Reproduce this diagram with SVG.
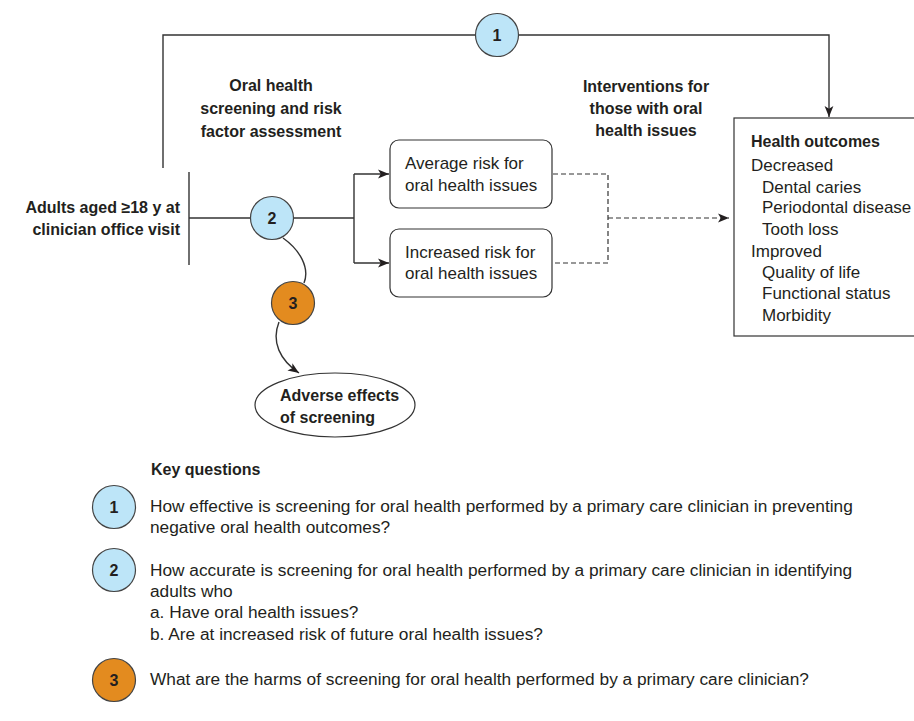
<svg xmlns="http://www.w3.org/2000/svg" width="914" height="721" viewBox="0 0 914 721">
<style>
text{font-family:"Liberation Sans",Arial,sans-serif;font-size:17px;fill:#231f20}
.b{font-weight:bold;font-size:16px}
.kq{font-size:17.3px}
.ln{fill:none;stroke:#333;stroke-width:1.4}
.dash{fill:none;stroke:#333;stroke-width:1.2;stroke-dasharray:5,3}
.box{fill:#fff;stroke:#333;stroke-width:1.2}
.blue{fill:#bde5f8;stroke:#444;stroke-width:1.2}
.orange{fill:#e38b1f;stroke:#444;stroke-width:1.2}
.num{font-weight:bold;font-size:16px;text-anchor:middle}
.mid{text-anchor:middle}
.end{text-anchor:end}
</style>
<defs>
<marker id="ah" viewBox="0 0 10 10" refX="10" refY="5" markerWidth="11" markerHeight="11" markerUnits="userSpaceOnUse" orient="auto">
<path d="M0,1 L10,5 L0,9 L2.5,5 Z" fill="#231f20"/>
</marker>
</defs>
<rect width="914" height="721" fill="#fff"/>
<g id="connectors">
<path class="ln" d="M163,168 V35 H829 V117" marker-end="url(#ah)"/>
<path class="ln" d="M189,172 V265"/>
<path class="ln" d="M189,218 H354"/>
<path class="ln" d="M354,174 V263"/>
<path class="ln" d="M354,174 H389" marker-end="url(#ah)"/>
<path class="ln" d="M354,263 H389" marker-end="url(#ah)"/>
<path class="dash" d="M553,174 H608 V263 H553"/>
<path class="dash" d="M608,218 H729" marker-end="url(#ah)"/>
<path class="ln" d="M283,238 C300,250 310,268 304,283"/>
<path class="ln" d="M279,322 C271,342 280,360 299,373" marker-end="url(#ah)"/>
</g>
<g id="kq1-circle"><circle class="blue" cx="497" cy="35" r="21.5"/><text class="num" x="497" y="41">1</text></g>
<g id="population">
<text class="b end" x="180" y="213">Adults aged ≥18 y at</text>
<text class="b end" x="180" y="235">clinician office visit</text>
</g>
<g id="screening-label">
<text class="b mid" x="271" y="91">Oral health</text>
<text class="b mid" x="271" y="114">screening and risk</text>
<text class="b mid" x="271" y="137">factor assessment</text>
</g>
<g id="interventions-label">
<text class="b mid" x="646" y="92">Interventions for</text>
<text class="b mid" x="646" y="114">those with oral</text>
<text class="b mid" x="646" y="136">health issues</text>
</g>
<g id="kq2-circle"><circle class="blue" cx="272" cy="218" r="21.5"/><text class="num" x="272" y="224">2</text></g>
<g id="kq3-circle"><circle class="orange" cx="293" cy="303" r="21.5"/><text class="num" x="293" y="309">3</text></g>
<g id="average-risk">
<rect class="box" x="390" y="140" width="162" height="68" rx="9"/>
<text x="405" y="169">Average risk for</text>
<text x="405" y="191">oral health issues</text>
</g>
<g id="increased-risk">
<rect class="box" x="390" y="229" width="162" height="68" rx="9"/>
<text x="405" y="258">Increased risk for</text>
<text x="405" y="279">oral health issues</text>
</g>
<g id="health-outcomes">
<rect class="box" x="734" y="118" width="200" height="218"/>
<text class="b" x="751" y="147">Health outcomes</text>
<text x="751" y="171">Decreased</text>
<text x="762" y="193">Dental caries</text>
<text x="762" y="213">Periodontal disease</text>
<text x="762" y="235">Tooth loss</text>
<text x="751" y="257">Improved</text>
<text x="762" y="278">Quality of life</text>
<text x="762" y="299">Functional status</text>
<text x="762" y="321">Morbidity</text>
</g>
<g id="adverse-effects">
<ellipse class="box" cx="335" cy="405" rx="80" ry="32"/>
<text class="b" x="280" y="401">Adverse effects</text>
<text class="b" x="280" y="423">of screening</text>
</g>
<g id="key-questions">
<text class="b" x="151" y="475">Key questions</text>
<circle class="blue" cx="114" cy="507" r="21.5"/><text class="num" x="114" y="513">1</text>
<text class="kq" x="150" y="512">How effective is screening for oral health performed by a primary care clinician in preventing</text>
<text class="kq" x="150" y="533">negative oral health outcomes?</text>
<circle class="blue" cx="114" cy="570" r="21.5"/><text class="num" x="114" y="576">2</text>
<text class="kq" x="150" y="576">How accurate is screening for oral health performed by a primary care clinician in identifying</text>
<text class="kq" x="150" y="597">adults who</text>
<text class="kq" x="150" y="618">a. Have oral health issues?</text>
<text class="kq" x="150" y="640">b. Are at increased risk of future oral health issues?</text>
<circle class="orange" cx="114" cy="680" r="21.5"/><text class="num" x="114" y="686">3</text>
<text class="kq" x="150" y="685">What are the harms of screening for oral health performed by a primary care clinician?</text>
</g>
</svg>
